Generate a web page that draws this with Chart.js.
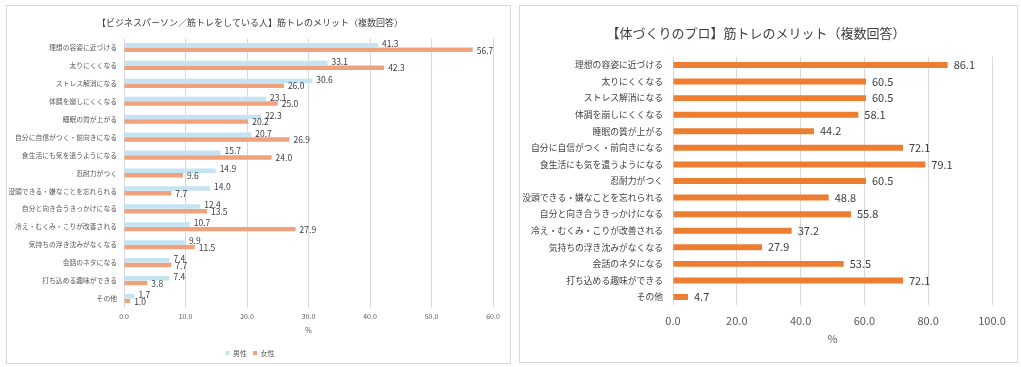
<!DOCTYPE html>
<html>
<head>
<meta charset="utf-8">
<script src="https://cdn.jsdelivr.net/npm/chart.js@4/dist/chart.umd.min.js"></script>
<style>
    body { margin: 0; background: #fff; }
    .panel { position: absolute; border: 1px solid #d9d9d9; background: #fff; }
    #leftPanel { left: 6px; top: 5px; width: 503px; height: 357px; }
    #rightPanel { left: 519px; top: 5px; width: 497px; height: 356px; }
    canvas { display: block; }
</style>
</head>
<body>
<div class="panel" id="leftPanel"><canvas id="leftChart" width="503" height="357"></canvas></div>
<div class="panel" id="rightPanel"><canvas id="rightChart" width="497" height="356"></canvas></div>
<script>
const categories = [
    '理想の容姿に近づける', '太りにくくなる', 'ストレス解消になる', '体調を崩しにくくなる',
    '睡眠の質が上がる', '自分に自信がつく・前向きになる', '食生活にも気を遣うようになる',
    '忍耐力がつく', '没頭できる・嫌なことを忘れられる', '自分と向き合うきっかけになる',
    '冷え・むくみ・こりが改善される', '気持ちの浮き沈みがなくなる', '会話のネタになる',
    '打ち込める趣味ができる', 'その他'
];
const maleValues = [41.3, 33.1, 30.6, 23.1, 22.3, 20.7, 15.7, 14.9, 14.0, 12.4, 10.7, 9.9, 7.4, 7.4, 1.7];
const femaleValues = [56.7, 42.3, 26.0, 25.0, 20.2, 26.9, 24.0, 9.6, 7.7, 13.5, 27.9, 11.5, 7.7, 3.8, 1.0];
const proValues = [86.1, 60.5, 60.5, 58.1, 44.2, 72.1, 79.1, 60.5, 48.8, 55.8, 37.2, 27.9, 53.5, 72.1, 4.7];

const leftTitle = '【ビジネスパーソン／筋トレをしている人】筋トレのメリット（複数回答）';
const rightTitle = '【体づくりのプロ】筋トレのメリット（複数回答）';
const seriesNames = ['男性', '女性'];

const FONT = '"Noto Sans CJK JP", "Noto Sans", sans-serif';

// value labels drawn next to each bar end
const valueLabels = {
    id: 'valueLabels',
    afterDatasetsDraw(chart, args, opts) {
        const ctx = chart.ctx;
        ctx.save();
        ctx.font = opts.size + 'px ' + FONT;
        ctx.fillStyle = opts.color;
        ctx.textAlign = 'left';
        ctx.textBaseline = 'middle';
        chart.data.datasets.forEach((ds, i) => {
            const meta = chart.getDatasetMeta(i);
            const dy = (opts.dy && opts.dy[i]) || 0;
            meta.data.forEach((bar, j) => {
                ctx.fillText(ds.data[j].toFixed(1), bar.x + opts.gap, bar.y + dy);
            });
        });
        ctx.restore();
    }
};

new Chart(document.getElementById('leftChart'), {
    type: 'bar',
    data: {
        labels: categories,
        datasets: [
            { label: seriesNames[0], data: maleValues, backgroundColor: '#c5e4f3', categoryPercentage: 0.52, barPercentage: 0.96 },
            { label: seriesNames[1], data: femaleValues, backgroundColor: '#f1a27c', categoryPercentage: 0.52, barPercentage: 0.96 }
        ]
    },
    plugins: [valueLabels],
    options: {
        indexAxis: 'y',
        responsive: false,
        animation: false,
        layout: { padding: { top: 0, left: 0, right: 17, bottom: 5.5 } },
        plugins: {
            title: {
                display: true,
                text: leftTitle,
                color: '#404040',
                font: { family: FONT, size: 9, weight: 'normal' },
                padding: { top: 11.6, bottom: 10.1 }
            },
            legend: {
                position: 'bottom',
                maxHeight: 14,
                labels: {
                    color: '#595959',
                    font: { family: FONT, size: 7 },
                    boxWidth: 4,
                    boxHeight: 4,
                    padding: 6
                }
            },
            tooltip: { enabled: false },
            valueLabels: { size: 8.5, color: '#404040', gap: 4, dy: [-1.5, 0.5] }
        },
        scales: {
            x: {
                min: 0,
                max: 60,
                ticks: {
                    stepSize: 10,
                    color: '#595959',
                    font: { family: FONT, size: 7 },
                    padding: 5,
                    callback: (v) => v.toFixed(1)
                },
                grid: { color: '#d9d9d9', drawTicks: false },
                border: { display: false },
                title: {
                    display: true,
                    text: '%',
                    color: '#595959',
                    font: { family: FONT, size: 7 },
                    padding: { top: 0, bottom: 9.3 }
                },
                afterFit: (scale) => { scale.height = 36; }
            },
            y: {
                ticks: {
                    color: '#595959',
                    font: { family: FONT, size: 6.8 },
                    padding: 7
                },
                grid: { display: false, drawTicks: false },
                border: { display: false },
                afterFit: (scale) => { scale.width = 117; }
            }
        }
    }
});

new Chart(document.getElementById('rightChart'), {
    type: 'bar',
    data: {
        labels: categories,
        datasets: [
            { label: '体づくりのプロ', data: proValues, backgroundColor: '#ed7d31', categoryPercentage: 0.36, barPercentage: 1.0 }
        ]
    },
    plugins: [valueLabels],
    options: {
        indexAxis: 'y',
        responsive: false,
        animation: false,
        layout: { padding: { top: 0, left: 0, right: 25, bottom: 10 } },
        plugins: {
            title: {
                display: true,
                text: rightTitle,
                color: '#404040',
                font: { family: FONT, size: 13, weight: 'normal' },
                padding: { top: 19.2, bottom: 15.9 }
            },
            legend: { display: false },
            tooltip: { enabled: false },
            valueLabels: { size: 11, color: '#404040', gap: 6 }
        },
        scales: {
            x: {
                min: 0,
                max: 100,
                ticks: {
                    stepSize: 20,
                    color: '#595959',
                    font: { family: FONT, size: 11 },
                    padding: 9,
                    callback: (v) => v.toFixed(1)
                },
                grid: { color: '#d9d9d9', drawTicks: false },
                border: { display: false },
                title: {
                    display: true,
                    text: '%',
                    color: '#595959',
                    font: { family: FONT, size: 11 },
                    padding: { top: 0, bottom: 7 }
                },
                afterFit: (scale) => { scale.height = 46.7; }
            },
            y: {
                ticks: {
                    color: '#404040',
                    font: { family: FONT, size: 8.8 },
                    padding: 10
                },
                grid: { display: false, drawTicks: false },
                border: { display: false },
                afterFit: (scale) => { scale.width = 153; }
            }
        }
    }
});
</script>
</body>
</html>
